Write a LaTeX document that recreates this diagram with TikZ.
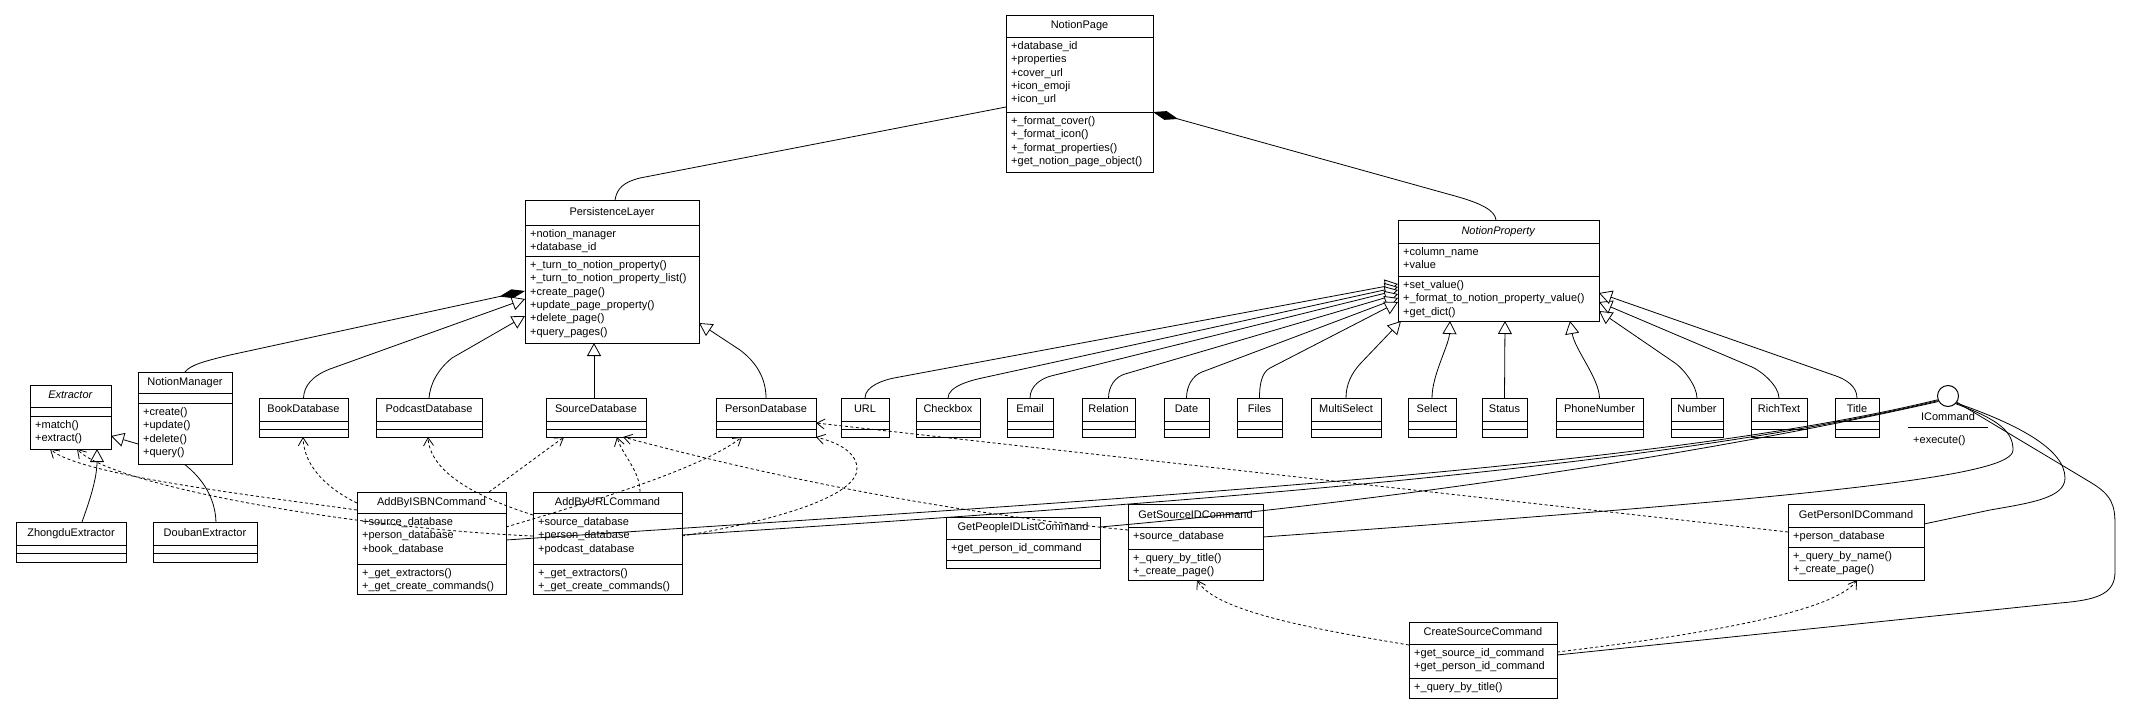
\documentclass[tikz,border=0pt]{standalone}
\usepackage{fontspec}
\setmainfont{Liberation Sans}
\usetikzlibrary{arrows.meta,calc,backgrounds}
\tikzset{
  box/.style={draw, line width=1pt, fill=white, inner sep=0pt, outer sep=0pt},
  sepline/.style={line width=1pt},
  ttl/.style={font=\fontsize{11}{13}\selectfont, inner sep=0pt, text height=8pt, text depth=2.5pt},
  ln/.style={font=\fontsize{11}{13}\selectfont, inner sep=0pt, anchor=base west},
  con/.style={line width=0.8pt},
  inh/.style={con, -{Triangle[open, length=13pt, width=14pt, fill=white]}},
  dep/.style={con, dash pattern=on 3pt off 2.5pt, -{Straight Barb[length=8pt, width=10pt]}},
  comp/.style={con, {Diamond[length=26pt, width=9pt]}-},
}
% #1 name, #2 x1, #3 y1, #4 x2, #5 sep1, #6 sep2, #7 y2, #8 title
\newcommand\umlclass[8]{%
  \node[box, minimum width={(#4-#2)*1pt}, minimum height={(#7-#3)*1pt}] (#1) at ({(#2+#4)/2},{(#3+#7)/2}) {};
  \draw[sepline] (#2,#5) -- (#4,#5) (#2,#6) -- (#4,#6);
  \node[ttl] (#1-title) at ({(#2+#4)/2},{(#3+#5)/2}) {#8};
}
% #1 class name, #2 tag, #3 x left, #4 sep y, #5 list
\newcommand\umllines[5]{%
  \foreach \ltext [count=\lidx] in {#5} {\node[ln] (#1-#2\lidx) at ({#3+5},{#4+12.5+13.33*(\lidx-1)}) {\ltext};}
}
% curve leaving a box top, then straight
\newcommand\bentinh[3]{%
  \draw[inh] (#1) .. controls ($(#1)+(0,-12)$) and ($(#2)!-10pt!(#3)$) .. (#2) -- (#3);
}
\begin{document}
\begin{tikzpicture}[x=1pt,y=-1pt]
\useasboundingbox (0,0) rectangle (2156,715);

% ---------- classes ----------
\umlclass{np}{1006}{15}{1153}{37}{112}{172}{NotionPage}
\umllines{np}{a}{1006}{37}{+database\_id,+properties,+cover\_url,+icon\_emoji,+icon\_url}
\umllines{np}{m}{1006}{112}{+\_format\_cover(),+\_format\_icon(),+\_format\_properties(),+get\_notion\_page\_object()}

\umlclass{pl}{525}{200}{699}{225}{256}{343}{PersistenceLayer}
\umllines{pl}{a}{525}{225}{+notion\_manager,+database\_id}
\umllines{pl}{m}{525}{256}{+\_turn\_to\_notion\_property(),+\_turn\_to\_notion\_property\_list(),+create\_page(),+update\_page\_property(),+delete\_page(),+query\_pages()}

\umlclass{npr}{1398}{220}{1599}{243}{276}{321}{\textit{NotionProperty}}
\umllines{npr}{a}{1398}{243}{+column\_name,+value}
\umllines{npr}{m}{1398}{276}{+set\_value(),+\_format\_to\_notion\_property\_value(),+get\_dict()}

\umlclass{ex}{30}{385}{111}{407}{416}{449}{\textit{Extractor}}
\umllines{ex}{m}{30}{416}{+match(),+extract()}

\umlclass{nm}{138}{372}{232}{393}{403}{464}{NotionManager}
\umllines{nm}{m}{138}{403}{+create(),+update(),+delete(),+query()}

\umlclass{ze}{16}{522}{126}{545}{553}{562}{ZhongduExtractor}
\umlclass{de}{153}{522}{257}{545}{553}{562}{DoubanExtractor}

\umlclass{bd}{259}{398}{348}{421}{429}{437}{BookDatabase}
\umlclass{pd}{376}{398}{482}{421}{429}{437}{PodcastDatabase}
\umlclass{sd}{546}{398}{646}{421}{429}{437}{SourceDatabase}
\umlclass{psd}{716}{398}{816}{421}{429}{437}{PersonDatabase}
\umlclass{url}{841}{398}{889}{421}{429}{437}{URL}
\umlclass{cb}{916}{398}{980}{421}{429}{437}{Checkbox}
\umlclass{em}{1007}{398}{1053}{421}{429}{437}{Email}
\umlclass{rel}{1082}{398}{1135}{421}{429}{437}{Relation}
\umlclass{dt}{1164}{398}{1209}{421}{429}{437}{Date}
\umlclass{fi}{1237}{398}{1282}{421}{429}{437}{Files}
\umlclass{ms}{1311}{398}{1381}{421}{429}{437}{MultiSelect}
\umlclass{sel}{1408}{398}{1456}{421}{429}{437}{Select}
\umlclass{st}{1482}{398}{1527}{421}{429}{437}{Status}
\umlclass{ph}{1556}{398}{1643}{421}{429}{437}{PhoneNumber}
\umlclass{num}{1671}{398}{1723}{421}{429}{437}{Number}
\umlclass{rt}{1751}{398}{1807}{421}{429}{437}{RichText}
\umlclass{ti}{1835}{398}{1879}{421}{429}{437}{Title}

\umlclass{ai}{357}{492}{506}{513}{564}{594}{AddByISBNCommand}
\umllines{ai}{a}{357}{513}{+source\_database,+person\_database,+book\_database}
\umllines{ai}{m}{357}{564}{+\_get\_extractors(),+\_get\_create\_commands()}

\umlclass{au}{533}{492}{682}{513}{564}{594}{AddByURLCommand}
\umllines{au}{a}{533}{513}{+source\_database,+person\_database,+podcast\_database}
\umllines{au}{m}{533}{564}{+\_get\_extractors(),+\_get\_create\_commands()}

\umlclass{gpl}{946}{517}{1100}{539}{560}{568}{GetPeopleIDListCommand}
\umllines{gpl}{a}{946}{539}{+get\_person\_id\_command}

\umlclass{gs}{1128}{504}{1263}{527}{549}{580}{GetSourceIDCommand}
\umllines{gs}{a}{1128}{527}{+source\_database}
\umllines{gs}{m}{1128}{549}{+\_query\_by\_title(),+\_create\_page()}

\umlclass{gp}{1788}{504}{1924}{527}{547}{580}{GetPersonIDCommand}
\umllines{gp}{a}{1788}{527}{+person\_database}
\umllines{gp}{m}{1788}{547}{+\_query\_by\_name(),+\_create\_page()}

\umlclass{cs}{1409}{622}{1557}{644}{678}{698}{CreateSourceCommand}
\umllines{cs}{a}{1409}{644}{+get\_source\_id\_command,+get\_person\_id\_command}
\umllines{cs}{m}{1409}{678}{+\_query\_by\_title()}

% interface ICommand
\node[circle, draw, line width=1pt, fill=white, minimum size=21pt, inner sep=0pt] (ic) at (1948,396) {};
\node[ttl] (ic-title) at (1948,418) {ICommand};
\draw[sepline] (1908,427.5) -- (1988,427.5);
\node[ln] (ic-m1) at (1913,443) {+execute()};

% ---------- white page and connector hidden behind boxes ----------
\begin{pgfonlayer}{background}
\fill[white] (0,0) rectangle (2156,715);
\draw[inh] (de.north -| 216,0) .. controls (215,492) and (196,468) .. (165,452) -- (ex.east |- 0,436);
\end{pgfonlayer}

% ---------- associations / compositions ----------
\draw[con] (pl.north -| 615,0) .. controls (617,188) and (624,182) .. (640,178) -- (np.west |- 0,107);
\draw[comp] (np.east |- 0,112) -- (1455,196) .. controls (1480,203) and (1495,210) .. (npr.north -| 1496,0);
\draw[comp] (pl.west |- 0,291) -- (230,355) .. controls (205,361) and (190,365) .. (nm.north -| 185,0);

% ---------- generalizations ----------
\draw[inh] (bd.north) .. controls (304,386) and (312,376) .. (330,369) -- (pl.west |- 0,299);
\draw[inh] (pd.north) .. controls (430,385) and (437,370) .. (452,358) -- (pl.west |- 0,316);
\draw[inh] (sd.north -| 594,0) -- (pl.south -| 594,0);
\draw[inh] (psd.north) .. controls (766,378) and (756,362) .. (740,350) -- (pl.east |- 0,323);

\bentinh{url.north}{894,378}{npr.west |- 0,284}
\bentinh{cb.north}{982,378}{npr.west |- 0,287}
\bentinh{em.north}{1051,376}{npr.west |- 0,290}
\bentinh{rel.north}{1125,374}{npr.west |- 0,294}
\bentinh{dt.north}{1202,372}{npr.west |- 0,298}
\bentinh{fi.north}{1270,368}{npr.west |- 0,302}
\draw[inh] (ms.north) .. controls (1346,385) and (1351,374) .. (1360,364) -- (npr.south -| 1401,0);
\draw[inh] (sel.north) .. controls (1432,375) and (1449,345) .. (npr.south -| 1450,0);
\draw[inh] (st.north) -- (npr.south -| 1505,0);
\draw[inh] (ph.north) .. controls (1599,378) and (1575,350) .. (npr.south -| 1570,0);
\bentinh{num.north}{1675,363}{npr.east |- 0,311}
\bentinh{rt.north}{1752,367}{npr.east |- 0,302}
\bentinh{ti.north}{1836,376}{npr.east |- 0,293}

\draw[inh] (ze.north -| 82,0) .. controls (88,505) and (97,480) .. (ex.south -| 97,0);

% ---------- realizations of ICommand ----------
\draw[con] (ic.200) .. controls (1650,470) and (1100,500) .. (ai.east |- 0,540);
\draw[con] (ic.205) .. controls (1650,470) and (1150,505) .. (au.east |- 0,535);
\draw[con] (ic.210) .. controls (1680,460) and (1350,505) .. (gpl.east |- 0,527);
\draw[con] (ic.-45) .. controls (2000,420) and (2013,432) .. (2013,450) .. controls (2013,475) and (1850,495) .. (gs.east |- 0,537);
\draw[con] (ic.-40) .. controls (2020,425) and (2065,450) .. (2065,478) .. controls (2065,498) and (2030,503) .. (1990,510) -- (gp.east |- 0,524);
\draw[con] (ic.-35) -- (2090,482) .. controls (2112,495) and (2115,505) .. (2115,525) -- (2115,572) .. controls (2115,595) and (2095,600) .. (2060,603) -- (cs.east |- 0,655);

% ---------- dependencies ----------
\draw[dep] (ai.west |- 0,510) .. controls (250,495) and (80,475) .. (ex.south -| 50,0);
\draw[dep] (au.west |- 0,536) .. controls (350,528) and (110,485) .. (ex.south -| 77,0);
\draw[dep] (ai.west |- 0,503) .. controls (330,490) and (304,468) .. (bd.south -| 303,0);
\draw[dep] (au.west |- 0,515) .. controls (470,495) and (430,470) .. (pd.south -| 428,0);
\draw[dep] (ai.north -| 489,0) -- (sd.south -| 564,0);
\draw[dep] (au.north -| 640,0) .. controls (640,470) and (622,455) .. (sd.south -| 617,0);
\draw[dep] (ai.east |- 0,527) .. controls (580,505) and (700,470) .. (psd.south -| 742,0);
\draw[dep] (au.east |- 0,536) .. controls (780,520) and (860,495) .. (857,467) .. controls (855,450) and (835,442) .. (psd.south east);
\draw[dep] (gs.west |- 0,530) .. controls (1000,518) and (820,490) .. (sd.south -| 623,0);
\draw[dep] (gp.west |- 0,532) -- (psd.east |- 0,423);
\draw[dep] (cs.west |- 0,645) .. controls (1320,630) and (1215,612) .. (gs.south -| 1197,0);
\draw[dep] (cs.east |- 0,652) .. controls (1700,635) and (1835,612) .. (gp.south -| 1857,0);
\end{tikzpicture}
\end{document}
